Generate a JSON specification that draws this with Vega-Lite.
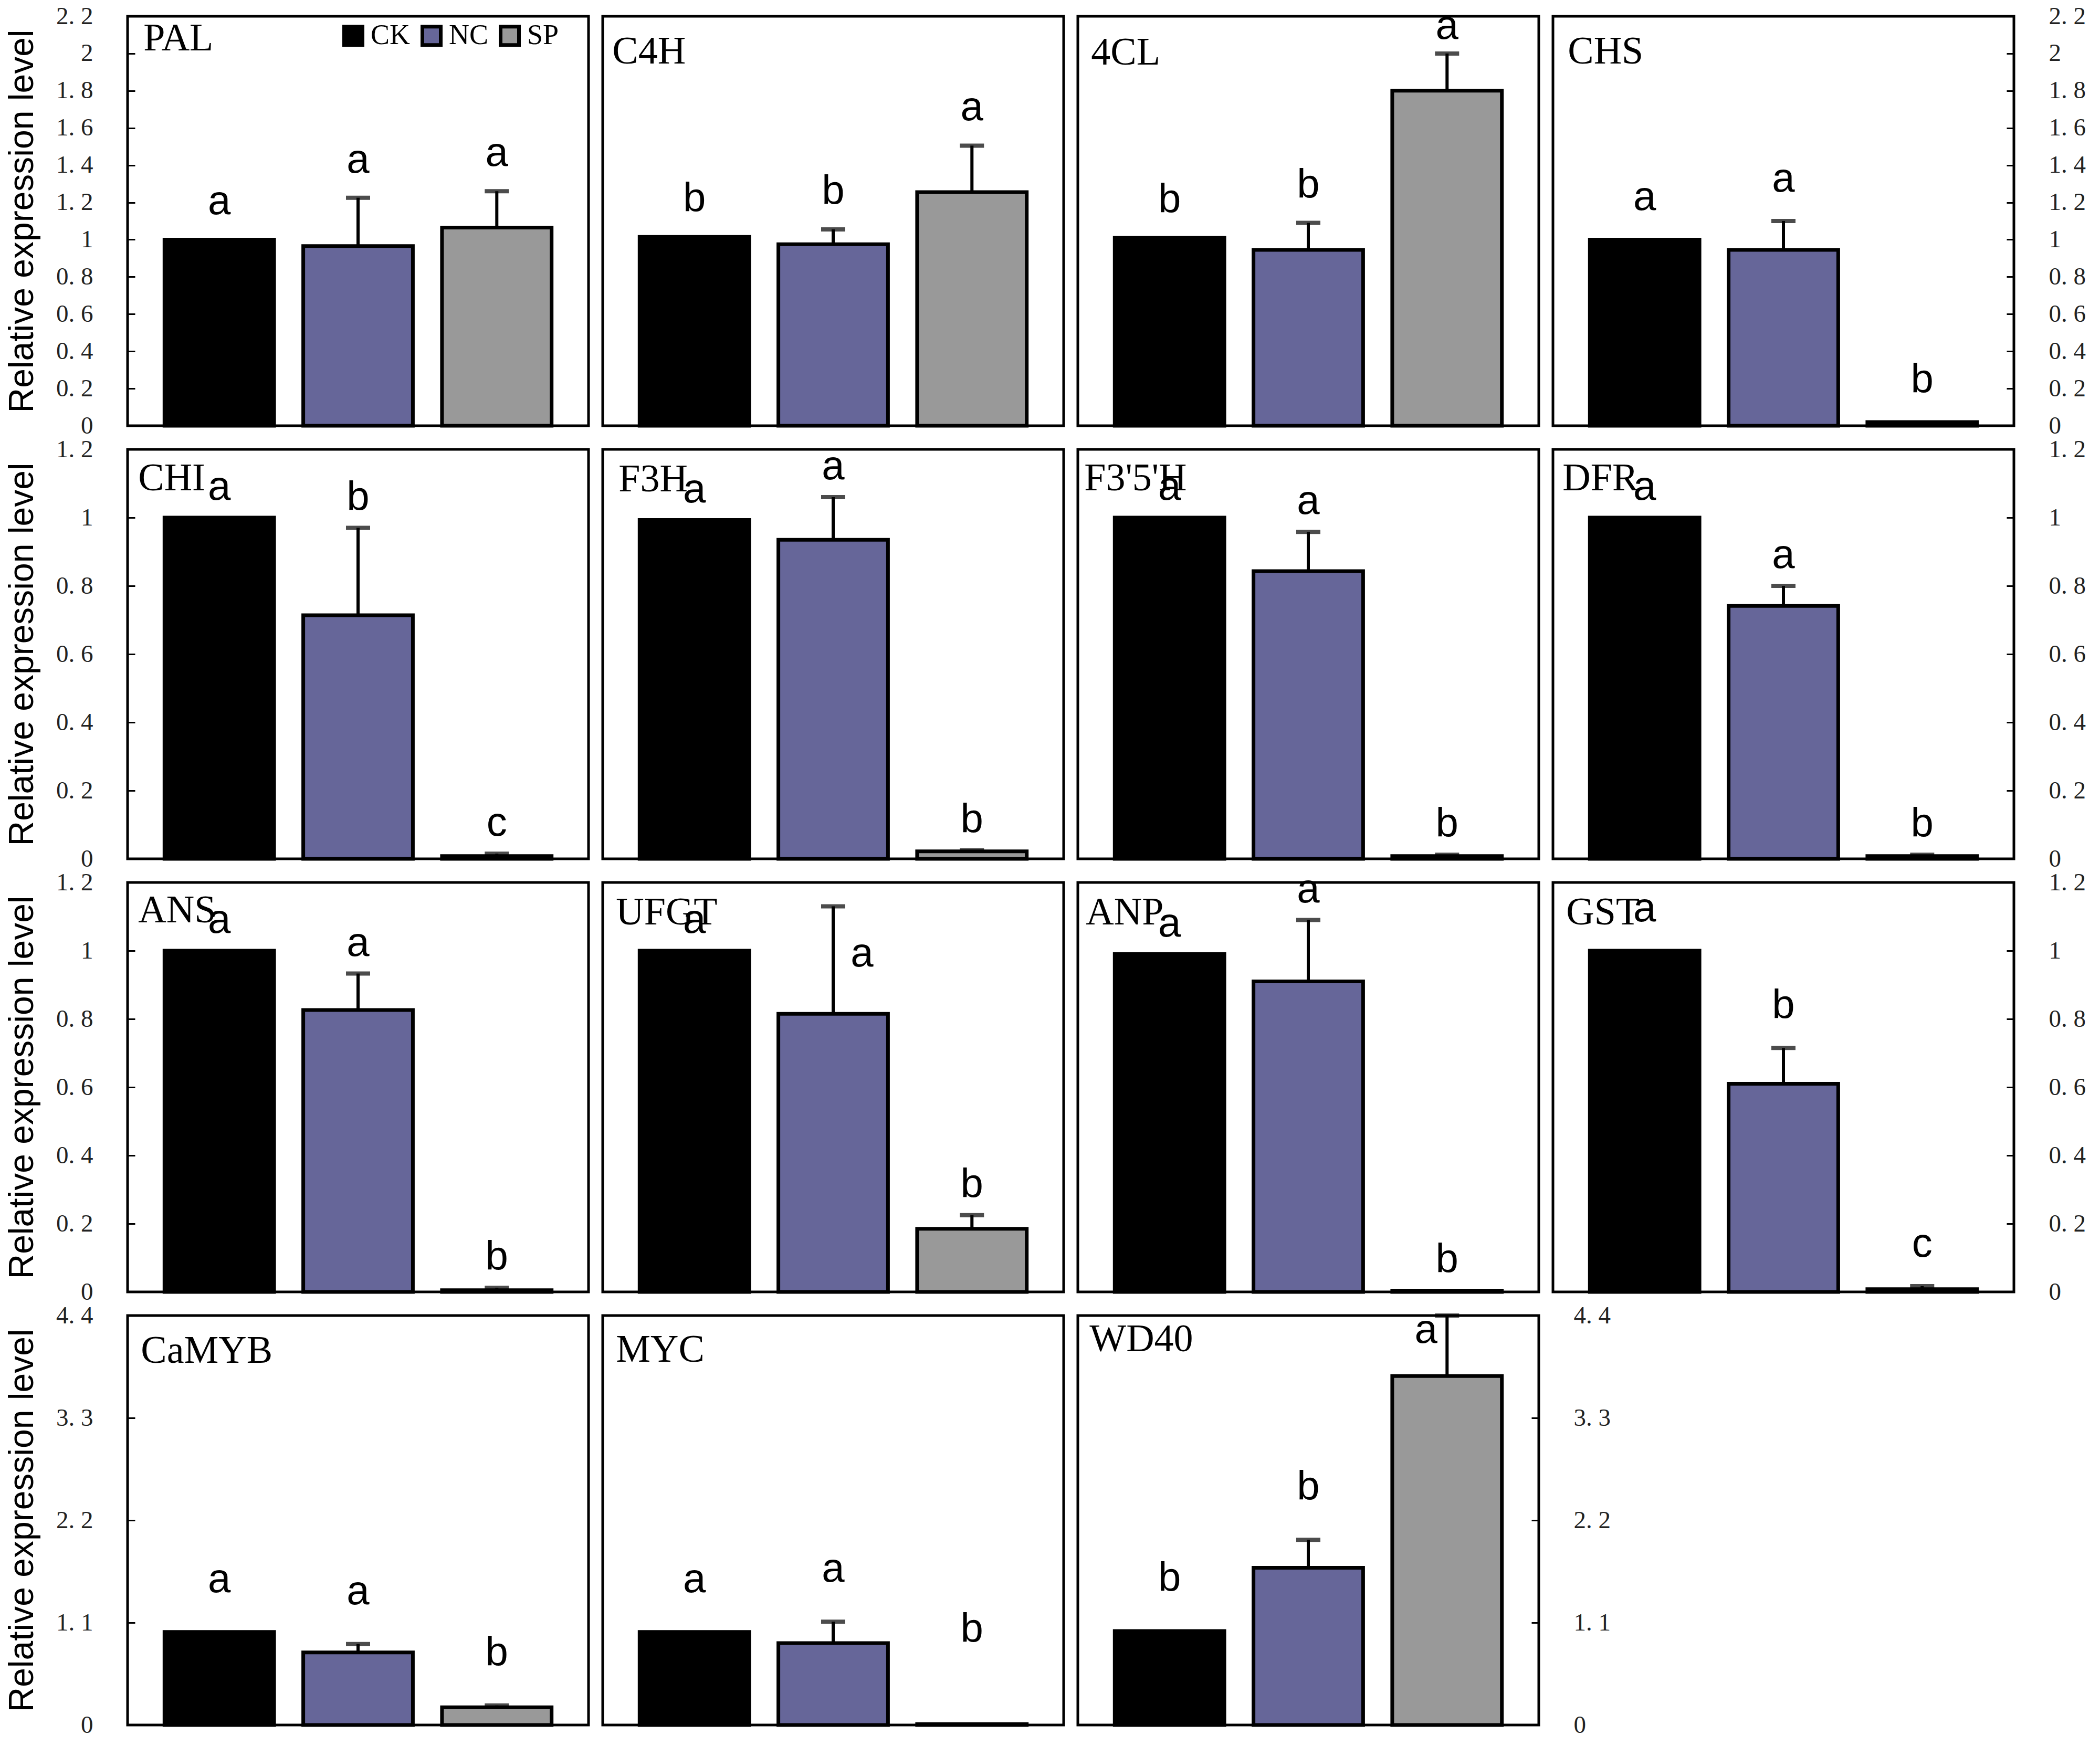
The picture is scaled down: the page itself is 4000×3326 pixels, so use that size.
{
  "$schema": "https://vega.github.io/schema/vega-lite/v6.json",
  "padding": {"left": 7, "top": 4, "right": 5, "bottom": 5},
  "background": "white",
  "data": {
    "values": [
      {"gene": "PAL", "trt": "CK", "mean": 1.0, "upper": 1.0, "letter": "a"},
      {"gene": "PAL", "trt": "NC", "mean": 0.965, "upper": 1.225, "letter": "a"},
      {"gene": "PAL", "trt": "SP", "mean": 1.065, "upper": 1.26, "letter": "a"},
      {"gene": "C4H", "trt": "CK", "mean": 1.015, "upper": 1.015, "letter": "b"},
      {"gene": "C4H", "trt": "NC", "mean": 0.975, "upper": 1.055, "letter": "b"},
      {"gene": "C4H", "trt": "SP", "mean": 1.255, "upper": 1.505, "letter": "a"},
      {"gene": "4CL", "trt": "CK", "mean": 1.01, "upper": 1.01, "letter": "b"},
      {"gene": "4CL", "trt": "NC", "mean": 0.945, "upper": 1.09, "letter": "b"},
      {"gene": "4CL", "trt": "SP", "mean": 1.8, "upper": 2.0, "letter": "a"},
      {"gene": "CHS", "trt": "CK", "mean": 1.0, "upper": 1.0, "letter": "a"},
      {"gene": "CHS", "trt": "NC", "mean": 0.945, "upper": 1.1, "letter": "a"},
      {"gene": "CHS", "trt": "SP", "mean": 0.02, "upper": 0.02, "letter": "b"},
      {"gene": "CHI", "trt": "CK", "mean": 1.0, "upper": 1.0, "letter": "a"},
      {"gene": "CHI", "trt": "NC", "mean": 0.714, "upper": 0.97, "letter": "b"},
      {"gene": "CHI", "trt": "SP", "mean": 0.008, "upper": 0.015, "letter": "c"},
      {"gene": "F3H", "trt": "CK", "mean": 0.993, "upper": 0.993, "letter": "a"},
      {"gene": "F3H", "trt": "NC", "mean": 0.935, "upper": 1.06, "letter": "a"},
      {"gene": "F3H", "trt": "SP", "mean": 0.022, "upper": 0.025, "letter": "b"},
      {"gene": "F3'5'H", "trt": "CK", "mean": 1.0, "upper": 1.0, "letter": "a"},
      {"gene": "F3'5'H", "trt": "NC", "mean": 0.843, "upper": 0.958, "letter": "a"},
      {"gene": "F3'5'H", "trt": "SP", "mean": 0.008, "upper": 0.012, "letter": "b"},
      {"gene": "DFR", "trt": "CK", "mean": 1.0, "upper": 1.0, "letter": "a"},
      {"gene": "DFR", "trt": "NC", "mean": 0.741, "upper": 0.8, "letter": "a"},
      {"gene": "DFR", "trt": "SP", "mean": 0.008, "upper": 0.012, "letter": "b"},
      {"gene": "ANS", "trt": "CK", "mean": 1.0, "upper": 1.0, "letter": "a"},
      {"gene": "ANS", "trt": "NC", "mean": 0.826, "upper": 0.933, "letter": "a"},
      {"gene": "ANS", "trt": "SP", "mean": 0.005, "upper": 0.012, "letter": "b"},
      {"gene": "UFGT", "trt": "CK", "mean": 1.0, "upper": 1.0, "letter": "a"},
      {"gene": "UFGT", "trt": "NC", "mean": 0.815, "upper": 1.13, "letter": "a"},
      {"gene": "UFGT", "trt": "SP", "mean": 0.185, "upper": 0.225, "letter": "b"},
      {"gene": "ANP", "trt": "CK", "mean": 0.99, "upper": 0.99, "letter": "a"},
      {"gene": "ANP", "trt": "NC", "mean": 0.91, "upper": 1.09, "letter": "a"},
      {"gene": "ANP", "trt": "SP", "mean": 0.004, "upper": 0.004, "letter": "b"},
      {"gene": "GST", "trt": "CK", "mean": 1.0, "upper": 1.0, "letter": "a"},
      {"gene": "GST", "trt": "NC", "mean": 0.61, "upper": 0.715, "letter": "b"},
      {"gene": "GST", "trt": "SP", "mean": 0.008, "upper": 0.017, "letter": "c"},
      {"gene": "CaMYB", "trt": "CK", "mean": 1.0, "upper": 1.0, "letter": "a"},
      {"gene": "CaMYB", "trt": "NC", "mean": 0.78, "upper": 0.87, "letter": "a"},
      {"gene": "CaMYB", "trt": "SP", "mean": 0.19, "upper": 0.21, "letter": "b"},
      {"gene": "MYC", "trt": "CK", "mean": 1.0, "upper": 1.0, "letter": "a"},
      {"gene": "MYC", "trt": "NC", "mean": 0.88, "upper": 1.11, "letter": "a"},
      {"gene": "MYC", "trt": "SP", "mean": 0.01, "upper": 0.01, "letter": "b"},
      {"gene": "WD40", "trt": "CK", "mean": 1.01, "upper": 1.01, "letter": "b"},
      {"gene": "WD40", "trt": "NC", "mean": 1.69, "upper": 1.99, "letter": "b"},
      {"gene": "WD40", "trt": "SP", "mean": 3.75, "upper": 4.4, "letter": "a"}
    ]
  },
  "columns": 4,
  "spacing": {"row": 45, "column": 27},
  "bounds": "flush",
  "resolve": {
    "scale": {"x": "independent", "y": "independent", "color": "independent"},
    "legend": {"color": "independent"}
  },
  "concat": [
    {
      "width": 878, "height": 780,
      "transform": [{"filter": {"field": "gene", "equal": "PAL"}}],
      "encoding": {"x": {"field": "trt", "type": "nominal", "scale": {"domain": ["CK", "NC", "SP"], "paddingInner": 0.21, "paddingOuter": 0.266}, "axis": null}},
      "layer": [
        {"mark": "bar", "encoding": {
          "y": {"field": "mean", "type": "quantitative", "scale": {"domain": [0, 2.2], "nice": false}, "axis": {"orient": "left", "title": "Relative expression level", "values": [0, 0.2, 0.4, 0.6, 0.8, 1, 1.2, 1.4, 1.6, 1.8, 2, 2.2]}},
          "color": {"field": "trt", "type": "nominal", "scale": {"domain": ["CK", "NC", "SP"], "range": ["#000000", "#666699", "#999999"]},
            "legend": {"orient": "none", "legendX": 403, "legendY": 10, "direction": "horizontal", "title": null, "symbolType": "square", "symbolSize": 1225, "symbolStrokeColor": "black", "symbolStrokeWidth": 4, "labelFont": "Liberation Serif", "labelFontSize": 54, "labelColor": "black", "labelOffset": 6, "columnPadding": 8, "padding": 0}}
        }},
        {"transform": [{"filter": "datum.upper > datum.mean"}], "mark": "rule", "encoding": {
          "y": {"field": "mean", "type": "quantitative", "scale": {"domain": [0, 2.2], "nice": false}, "axis": {"orient": "left", "title": "Relative expression level", "values": [0, 0.2, 0.4, 0.6, 0.8, 1, 1.2, 1.4, 1.6, 1.8, 2, 2.2]}}, "y2": {"field": "upper"}}},
        {"transform": [{"filter": "datum.upper > datum.mean"}], "mark": "tick", "encoding": {
          "y": {"field": "upper", "type": "quantitative", "scale": {"domain": [0, 2.2], "nice": false}, "axis": {"orient": "left", "title": "Relative expression level", "values": [0, 0.2, 0.4, 0.6, 0.8, 1, 1.2, 1.4, 1.6, 1.8, 2, 2.2]}}}},
        {"mark": {"type": "text", "dy": -32}, "encoding": {
          "y": {"field": "upper", "type": "quantitative", "scale": {"domain": [0, 2.2], "nice": false}, "axis": {"orient": "left", "title": "Relative expression level", "values": [0, 0.2, 0.4, 0.6, 0.8, 1, 1.2, 1.4, 1.6, 1.8, 2, 2.2]}}, "text": {"field": "letter"}}},
        {"transform": [{"filter": {"field": "trt", "equal": "CK"}}], "mark": {"type": "text", "font": "Liberation Serif", "fontSize": 74, "align": "left", "baseline": "alphabetic", "dx": -40, "dy": 65}, "encoding": {
          "x": {"field": "trt", "type": "nominal", "bandPosition": 0, "scale": {"domain": ["CK", "NC", "SP"], "paddingInner": 0.21, "paddingOuter": 0.266}, "axis": null},
          "y": {"datum": 2.2, "type": "quantitative", "scale": {"domain": [0, 2.2], "nice": false}, "axis": {"orient": "left", "title": "Relative expression level", "values": [0, 0.2, 0.4, 0.6, 0.8, 1, 1.2, 1.4, 1.6, 1.8, 2, 2.2]}}, "text": {"field": "gene"}}}
      ]
    },
    {
      "width": 878, "height": 780,
      "transform": [{"filter": {"field": "gene", "equal": "C4H"}}],
      "encoding": {"x": {"field": "trt", "type": "nominal", "scale": {"domain": ["CK", "NC", "SP"], "paddingInner": 0.21, "paddingOuter": 0.266}, "axis": null}},
      "layer": [
        {"mark": "bar", "encoding": {
          "y": {"field": "mean", "type": "quantitative", "scale": {"domain": [0, 2.2], "nice": false}, "axis": null},
          "color": {"field": "trt", "type": "nominal", "scale": {"domain": ["CK", "NC", "SP"], "range": ["#000000", "#666699", "#999999"]}, "legend": null}
        }},
        {"transform": [{"filter": "datum.upper > datum.mean"}], "mark": "rule", "encoding": {
          "y": {"field": "mean", "type": "quantitative", "scale": {"domain": [0, 2.2], "nice": false}, "axis": null}, "y2": {"field": "upper"}}},
        {"transform": [{"filter": "datum.upper > datum.mean"}], "mark": "tick", "encoding": {
          "y": {"field": "upper", "type": "quantitative", "scale": {"domain": [0, 2.2], "nice": false}, "axis": null}}},
        {"mark": {"type": "text", "dy": -32}, "encoding": {
          "y": {"field": "upper", "type": "quantitative", "scale": {"domain": [0, 2.2], "nice": false}, "axis": null}, "text": {"field": "letter"}}},
        {"transform": [{"filter": {"field": "trt", "equal": "CK"}}], "mark": {"type": "text", "font": "Liberation Serif", "fontSize": 74, "align": "left", "baseline": "alphabetic", "dx": -52, "dy": 90}, "encoding": {
          "x": {"field": "trt", "type": "nominal", "bandPosition": 0, "scale": {"domain": ["CK", "NC", "SP"], "paddingInner": 0.21, "paddingOuter": 0.266}, "axis": null},
          "y": {"datum": 2.2, "type": "quantitative", "scale": {"domain": [0, 2.2], "nice": false}, "axis": null}, "text": {"field": "gene"}}}
      ]
    },
    {
      "width": 878, "height": 780,
      "transform": [{"filter": {"field": "gene", "equal": "4CL"}}],
      "encoding": {"x": {"field": "trt", "type": "nominal", "scale": {"domain": ["CK", "NC", "SP"], "paddingInner": 0.21, "paddingOuter": 0.266}, "axis": null}},
      "layer": [
        {"mark": "bar", "encoding": {
          "y": {"field": "mean", "type": "quantitative", "scale": {"domain": [0, 2.2], "nice": false}, "axis": null},
          "color": {"field": "trt", "type": "nominal", "scale": {"domain": ["CK", "NC", "SP"], "range": ["#000000", "#666699", "#999999"]}, "legend": null}
        }},
        {"transform": [{"filter": "datum.upper > datum.mean"}], "mark": "rule", "encoding": {
          "y": {"field": "mean", "type": "quantitative", "scale": {"domain": [0, 2.2], "nice": false}, "axis": null}, "y2": {"field": "upper"}}},
        {"transform": [{"filter": "datum.upper > datum.mean"}], "mark": "tick", "encoding": {
          "y": {"field": "upper", "type": "quantitative", "scale": {"domain": [0, 2.2], "nice": false}, "axis": null}}},
        {"transform": [{"filter": {"field": "trt", "oneOf": ["CK", "NC"]}}], "mark": {"type": "text", "dy": -32}, "encoding": {
          "y": {"field": "upper", "type": "quantitative", "scale": {"domain": [0, 2.2], "nice": false}, "axis": null}, "text": {"field": "letter"}}},
        {"transform": [{"filter": {"field": "trt", "equal": "SP"}}], "mark": {"type": "text", "dy": -12}, "encoding": {
          "y": {"field": "upper", "type": "quantitative", "scale": {"domain": [0, 2.2], "nice": false}, "axis": null}, "text": {"field": "letter"}}},
        {"transform": [{"filter": {"field": "trt", "equal": "CK"}}], "mark": {"type": "text", "font": "Liberation Serif", "fontSize": 74, "align": "left", "baseline": "alphabetic", "dx": -45, "dy": 92}, "encoding": {
          "x": {"field": "trt", "type": "nominal", "bandPosition": 0, "scale": {"domain": ["CK", "NC", "SP"], "paddingInner": 0.21, "paddingOuter": 0.266}, "axis": null},
          "y": {"datum": 2.2, "type": "quantitative", "scale": {"domain": [0, 2.2], "nice": false}, "axis": null}, "text": {"field": "gene"}}}
      ]
    },
    {
      "width": 878, "height": 780,
      "transform": [{"filter": {"field": "gene", "equal": "CHS"}}],
      "encoding": {"x": {"field": "trt", "type": "nominal", "scale": {"domain": ["CK", "NC", "SP"], "paddingInner": 0.21, "paddingOuter": 0.266}, "axis": null}},
      "layer": [
        {"mark": "bar", "encoding": {
          "y": {"field": "mean", "type": "quantitative", "scale": {"domain": [0, 2.2], "nice": false}, "axis": {"orient": "right", "title": null, "values": [0, 0.2, 0.4, 0.6, 0.8, 1, 1.2, 1.4, 1.6, 1.8, 2, 2.2]}},
          "color": {"field": "trt", "type": "nominal", "scale": {"domain": ["CK", "NC", "SP"], "range": ["#000000", "#666699", "#999999"]}, "legend": null}
        }},
        {"transform": [{"filter": "datum.upper > datum.mean"}], "mark": "rule", "encoding": {
          "y": {"field": "mean", "type": "quantitative", "scale": {"domain": [0, 2.2], "nice": false}, "axis": {"orient": "right", "title": null, "values": [0, 0.2, 0.4, 0.6, 0.8, 1, 1.2, 1.4, 1.6, 1.8, 2, 2.2]}}, "y2": {"field": "upper"}}},
        {"transform": [{"filter": "datum.upper > datum.mean"}], "mark": "tick", "encoding": {
          "y": {"field": "upper", "type": "quantitative", "scale": {"domain": [0, 2.2], "nice": false}, "axis": {"orient": "right", "title": null, "values": [0, 0.2, 0.4, 0.6, 0.8, 1, 1.2, 1.4, 1.6, 1.8, 2, 2.2]}}}},
        {"mark": {"type": "text", "dy": -40}, "encoding": {
          "y": {"field": "upper", "type": "quantitative", "scale": {"domain": [0, 2.2], "nice": false}, "axis": {"orient": "right", "title": null, "values": [0, 0.2, 0.4, 0.6, 0.8, 1, 1.2, 1.4, 1.6, 1.8, 2, 2.2]}}, "text": {"field": "letter"}}},
        {"transform": [{"filter": {"field": "trt", "equal": "CK"}}], "mark": {"type": "text", "font": "Liberation Serif", "fontSize": 74, "align": "left", "baseline": "alphabetic", "dx": -42, "dy": 90}, "encoding": {
          "x": {"field": "trt", "type": "nominal", "bandPosition": 0, "scale": {"domain": ["CK", "NC", "SP"], "paddingInner": 0.21, "paddingOuter": 0.266}, "axis": null},
          "y": {"datum": 2.2, "type": "quantitative", "scale": {"domain": [0, 2.2], "nice": false}, "axis": {"orient": "right", "title": null, "values": [0, 0.2, 0.4, 0.6, 0.8, 1, 1.2, 1.4, 1.6, 1.8, 2, 2.2]}}, "text": {"field": "gene"}}}
      ]
    },
    {
      "width": 878, "height": 780,
      "transform": [{"filter": {"field": "gene", "equal": "CHI"}}],
      "encoding": {"x": {"field": "trt", "type": "nominal", "scale": {"domain": ["CK", "NC", "SP"], "paddingInner": 0.21, "paddingOuter": 0.266}, "axis": null}},
      "layer": [
        {"mark": "bar", "encoding": {
          "y": {"field": "mean", "type": "quantitative", "scale": {"domain": [0, 1.2], "nice": false}, "axis": {"orient": "left", "title": "Relative expression level", "values": [0, 0.2, 0.4, 0.6, 0.8, 1, 1.2]}},
          "color": {"field": "trt", "type": "nominal", "scale": {"domain": ["CK", "NC", "SP"], "range": ["#000000", "#666699", "#999999"]}, "legend": null}
        }},
        {"transform": [{"filter": "datum.upper > datum.mean"}], "mark": "rule", "encoding": {
          "y": {"field": "mean", "type": "quantitative", "scale": {"domain": [0, 1.2], "nice": false}, "axis": {"orient": "left", "title": "Relative expression level", "values": [0, 0.2, 0.4, 0.6, 0.8, 1, 1.2]}}, "y2": {"field": "upper"}}},
        {"transform": [{"filter": "datum.upper > datum.mean"}], "mark": "tick", "encoding": {
          "y": {"field": "upper", "type": "quantitative", "scale": {"domain": [0, 1.2], "nice": false}, "axis": {"orient": "left", "title": "Relative expression level", "values": [0, 0.2, 0.4, 0.6, 0.8, 1, 1.2]}}}},
        {"mark": {"type": "text", "dy": -18}, "encoding": {
          "y": {"field": "upper", "type": "quantitative", "scale": {"domain": [0, 1.2], "nice": false}, "axis": {"orient": "left", "title": "Relative expression level", "values": [0, 0.2, 0.4, 0.6, 0.8, 1, 1.2]}}, "text": {"field": "letter"}}},
        {"transform": [{"filter": {"field": "trt", "equal": "CK"}}], "mark": {"type": "text", "font": "Liberation Serif", "fontSize": 74, "align": "left", "baseline": "alphabetic", "dx": -50, "dy": 78}, "encoding": {
          "x": {"field": "trt", "type": "nominal", "bandPosition": 0, "scale": {"domain": ["CK", "NC", "SP"], "paddingInner": 0.21, "paddingOuter": 0.266}, "axis": null},
          "y": {"datum": 1.2, "type": "quantitative", "scale": {"domain": [0, 1.2], "nice": false}, "axis": {"orient": "left", "title": "Relative expression level", "values": [0, 0.2, 0.4, 0.6, 0.8, 1, 1.2]}}, "text": {"field": "gene"}}}
      ]
    },
    {
      "width": 878, "height": 780,
      "transform": [{"filter": {"field": "gene", "equal": "F3H"}}],
      "encoding": {"x": {"field": "trt", "type": "nominal", "scale": {"domain": ["CK", "NC", "SP"], "paddingInner": 0.21, "paddingOuter": 0.266}, "axis": null}},
      "layer": [
        {"mark": "bar", "encoding": {
          "y": {"field": "mean", "type": "quantitative", "scale": {"domain": [0, 1.2], "nice": false}, "axis": null},
          "color": {"field": "trt", "type": "nominal", "scale": {"domain": ["CK", "NC", "SP"], "range": ["#000000", "#666699", "#999999"]}, "legend": null}
        }},
        {"transform": [{"filter": "datum.upper > datum.mean"}], "mark": "rule", "encoding": {
          "y": {"field": "mean", "type": "quantitative", "scale": {"domain": [0, 1.2], "nice": false}, "axis": null}, "y2": {"field": "upper"}}},
        {"transform": [{"filter": "datum.upper > datum.mean"}], "mark": "tick", "encoding": {
          "y": {"field": "upper", "type": "quantitative", "scale": {"domain": [0, 1.2], "nice": false}, "axis": null}}},
        {"mark": {"type": "text", "dy": -18}, "encoding": {
          "y": {"field": "upper", "type": "quantitative", "scale": {"domain": [0, 1.2], "nice": false}, "axis": null}, "text": {"field": "letter"}}},
        {"transform": [{"filter": {"field": "trt", "equal": "CK"}}], "mark": {"type": "text", "font": "Liberation Serif", "fontSize": 74, "align": "left", "baseline": "alphabetic", "dx": -40, "dy": 80}, "encoding": {
          "x": {"field": "trt", "type": "nominal", "bandPosition": 0, "scale": {"domain": ["CK", "NC", "SP"], "paddingInner": 0.21, "paddingOuter": 0.266}, "axis": null},
          "y": {"datum": 1.2, "type": "quantitative", "scale": {"domain": [0, 1.2], "nice": false}, "axis": null}, "text": {"field": "gene"}}}
      ]
    },
    {
      "width": 878, "height": 780,
      "transform": [{"filter": {"field": "gene", "equal": "F3'5'H"}}],
      "encoding": {"x": {"field": "trt", "type": "nominal", "scale": {"domain": ["CK", "NC", "SP"], "paddingInner": 0.21, "paddingOuter": 0.266}, "axis": null}},
      "layer": [
        {"mark": "bar", "encoding": {
          "y": {"field": "mean", "type": "quantitative", "scale": {"domain": [0, 1.2], "nice": false}, "axis": null},
          "color": {"field": "trt", "type": "nominal", "scale": {"domain": ["CK", "NC", "SP"], "range": ["#000000", "#666699", "#999999"]}, "legend": null}
        }},
        {"transform": [{"filter": "datum.upper > datum.mean"}], "mark": "rule", "encoding": {
          "y": {"field": "mean", "type": "quantitative", "scale": {"domain": [0, 1.2], "nice": false}, "axis": null}, "y2": {"field": "upper"}}},
        {"transform": [{"filter": "datum.upper > datum.mean"}], "mark": "tick", "encoding": {
          "y": {"field": "upper", "type": "quantitative", "scale": {"domain": [0, 1.2], "nice": false}, "axis": null}}},
        {"mark": {"type": "text", "dy": -18}, "encoding": {
          "y": {"field": "upper", "type": "quantitative", "scale": {"domain": [0, 1.2], "nice": false}, "axis": null}, "text": {"field": "letter"}}},
        {"transform": [{"filter": {"field": "trt", "equal": "CK"}}], "mark": {"type": "text", "font": "Liberation Serif", "fontSize": 74, "align": "left", "baseline": "alphabetic", "dx": -58, "dy": 78}, "encoding": {
          "x": {"field": "trt", "type": "nominal", "bandPosition": 0, "scale": {"domain": ["CK", "NC", "SP"], "paddingInner": 0.21, "paddingOuter": 0.266}, "axis": null},
          "y": {"datum": 1.2, "type": "quantitative", "scale": {"domain": [0, 1.2], "nice": false}, "axis": null}, "text": {"field": "gene"}}}
      ]
    },
    {
      "width": 878, "height": 780,
      "transform": [{"filter": {"field": "gene", "equal": "DFR"}}],
      "encoding": {"x": {"field": "trt", "type": "nominal", "scale": {"domain": ["CK", "NC", "SP"], "paddingInner": 0.21, "paddingOuter": 0.266}, "axis": null}},
      "layer": [
        {"mark": "bar", "encoding": {
          "y": {"field": "mean", "type": "quantitative", "scale": {"domain": [0, 1.2], "nice": false}, "axis": {"orient": "right", "title": null, "values": [0, 0.2, 0.4, 0.6, 0.8, 1, 1.2]}},
          "color": {"field": "trt", "type": "nominal", "scale": {"domain": ["CK", "NC", "SP"], "range": ["#000000", "#666699", "#999999"]}, "legend": null}
        }},
        {"transform": [{"filter": "datum.upper > datum.mean"}], "mark": "rule", "encoding": {
          "y": {"field": "mean", "type": "quantitative", "scale": {"domain": [0, 1.2], "nice": false}, "axis": {"orient": "right", "title": null, "values": [0, 0.2, 0.4, 0.6, 0.8, 1, 1.2]}}, "y2": {"field": "upper"}}},
        {"transform": [{"filter": "datum.upper > datum.mean"}], "mark": "tick", "encoding": {
          "y": {"field": "upper", "type": "quantitative", "scale": {"domain": [0, 1.2], "nice": false}, "axis": {"orient": "right", "title": null, "values": [0, 0.2, 0.4, 0.6, 0.8, 1, 1.2]}}}},
        {"mark": {"type": "text", "dy": -18}, "encoding": {
          "y": {"field": "upper", "type": "quantitative", "scale": {"domain": [0, 1.2], "nice": false}, "axis": {"orient": "right", "title": null, "values": [0, 0.2, 0.4, 0.6, 0.8, 1, 1.2]}}, "text": {"field": "letter"}}},
        {"transform": [{"filter": {"field": "trt", "equal": "CK"}}], "mark": {"type": "text", "font": "Liberation Serif", "fontSize": 74, "align": "left", "baseline": "alphabetic", "dx": -52, "dy": 78}, "encoding": {
          "x": {"field": "trt", "type": "nominal", "bandPosition": 0, "scale": {"domain": ["CK", "NC", "SP"], "paddingInner": 0.21, "paddingOuter": 0.266}, "axis": null},
          "y": {"datum": 1.2, "type": "quantitative", "scale": {"domain": [0, 1.2], "nice": false}, "axis": {"orient": "right", "title": null, "values": [0, 0.2, 0.4, 0.6, 0.8, 1, 1.2]}}, "text": {"field": "gene"}}}
      ]
    },
    {
      "width": 878, "height": 780,
      "transform": [{"filter": {"field": "gene", "equal": "ANS"}}],
      "encoding": {"x": {"field": "trt", "type": "nominal", "scale": {"domain": ["CK", "NC", "SP"], "paddingInner": 0.21, "paddingOuter": 0.266}, "axis": null}},
      "layer": [
        {"mark": "bar", "encoding": {
          "y": {"field": "mean", "type": "quantitative", "scale": {"domain": [0, 1.2], "nice": false}, "axis": {"orient": "left", "title": "Relative expression level", "values": [0, 0.2, 0.4, 0.6, 0.8, 1, 1.2]}},
          "color": {"field": "trt", "type": "nominal", "scale": {"domain": ["CK", "NC", "SP"], "range": ["#000000", "#666699", "#999999"]}, "legend": null}
        }},
        {"transform": [{"filter": "datum.upper > datum.mean"}], "mark": "rule", "encoding": {
          "y": {"field": "mean", "type": "quantitative", "scale": {"domain": [0, 1.2], "nice": false}, "axis": {"orient": "left", "title": "Relative expression level", "values": [0, 0.2, 0.4, 0.6, 0.8, 1, 1.2]}}, "y2": {"field": "upper"}}},
        {"transform": [{"filter": "datum.upper > datum.mean"}], "mark": "tick", "encoding": {
          "y": {"field": "upper", "type": "quantitative", "scale": {"domain": [0, 1.2], "nice": false}, "axis": {"orient": "left", "title": "Relative expression level", "values": [0, 0.2, 0.4, 0.6, 0.8, 1, 1.2]}}}},
        {"mark": {"type": "text", "dy": -18}, "encoding": {
          "y": {"field": "upper", "type": "quantitative", "scale": {"domain": [0, 1.2], "nice": false}, "axis": {"orient": "left", "title": "Relative expression level", "values": [0, 0.2, 0.4, 0.6, 0.8, 1, 1.2]}}, "text": {"field": "letter"}}},
        {"transform": [{"filter": {"field": "trt", "equal": "CK"}}], "mark": {"type": "text", "font": "Liberation Serif", "fontSize": 74, "align": "left", "baseline": "alphabetic", "dx": -50, "dy": 76}, "encoding": {
          "x": {"field": "trt", "type": "nominal", "bandPosition": 0, "scale": {"domain": ["CK", "NC", "SP"], "paddingInner": 0.21, "paddingOuter": 0.266}, "axis": null},
          "y": {"datum": 1.2, "type": "quantitative", "scale": {"domain": [0, 1.2], "nice": false}, "axis": {"orient": "left", "title": "Relative expression level", "values": [0, 0.2, 0.4, 0.6, 0.8, 1, 1.2]}}, "text": {"field": "gene"}}}
      ]
    },
    {
      "width": 878, "height": 780,
      "transform": [{"filter": {"field": "gene", "equal": "UFGT"}}],
      "encoding": {"x": {"field": "trt", "type": "nominal", "scale": {"domain": ["CK", "NC", "SP"], "paddingInner": 0.21, "paddingOuter": 0.266}, "axis": null}},
      "layer": [
        {"mark": "bar", "encoding": {
          "y": {"field": "mean", "type": "quantitative", "scale": {"domain": [0, 1.2], "nice": false}, "axis": null},
          "color": {"field": "trt", "type": "nominal", "scale": {"domain": ["CK", "NC", "SP"], "range": ["#000000", "#666699", "#999999"]}, "legend": null}
        }},
        {"transform": [{"filter": "datum.upper > datum.mean"}], "mark": "rule", "encoding": {
          "y": {"field": "mean", "type": "quantitative", "scale": {"domain": [0, 1.2], "nice": false}, "axis": null}, "y2": {"field": "upper"}}},
        {"transform": [{"filter": "datum.upper > datum.mean"}], "mark": "tick", "encoding": {
          "y": {"field": "upper", "type": "quantitative", "scale": {"domain": [0, 1.2], "nice": false}, "axis": null}}},
        {"transform": [{"filter": {"field": "trt", "equal": "NC"}}], "mark": {"type": "text", "dy": 130, "dx": 55}, "encoding": {
          "y": {"field": "upper", "type": "quantitative", "scale": {"domain": [0, 1.2], "nice": false}, "axis": null}, "text": {"field": "letter"}}},
        {"transform": [{"filter": {"field": "trt", "oneOf": ["CK", "SP"]}}], "mark": {"type": "text", "dy": -18}, "encoding": {
          "y": {"field": "upper", "type": "quantitative", "scale": {"domain": [0, 1.2], "nice": false}, "axis": null}, "text": {"field": "letter"}}},
        {"transform": [{"filter": {"field": "trt", "equal": "CK"}}], "mark": {"type": "text", "font": "Liberation Serif", "fontSize": 74, "align": "left", "baseline": "alphabetic", "dx": -45, "dy": 80}, "encoding": {
          "x": {"field": "trt", "type": "nominal", "bandPosition": 0, "scale": {"domain": ["CK", "NC", "SP"], "paddingInner": 0.21, "paddingOuter": 0.266}, "axis": null},
          "y": {"datum": 1.2, "type": "quantitative", "scale": {"domain": [0, 1.2], "nice": false}, "axis": null}, "text": {"field": "gene"}}}
      ]
    },
    {
      "width": 878, "height": 780,
      "transform": [{"filter": {"field": "gene", "equal": "ANP"}}],
      "encoding": {"x": {"field": "trt", "type": "nominal", "scale": {"domain": ["CK", "NC", "SP"], "paddingInner": 0.21, "paddingOuter": 0.266}, "axis": null}},
      "layer": [
        {"mark": "bar", "encoding": {
          "y": {"field": "mean", "type": "quantitative", "scale": {"domain": [0, 1.2], "nice": false}, "axis": null},
          "color": {"field": "trt", "type": "nominal", "scale": {"domain": ["CK", "NC", "SP"], "range": ["#000000", "#666699", "#999999"]}, "legend": null}
        }},
        {"transform": [{"filter": "datum.upper > datum.mean"}], "mark": "rule", "encoding": {
          "y": {"field": "mean", "type": "quantitative", "scale": {"domain": [0, 1.2], "nice": false}, "axis": null}, "y2": {"field": "upper"}}},
        {"transform": [{"filter": "datum.upper > datum.mean"}], "mark": "tick", "encoding": {
          "y": {"field": "upper", "type": "quantitative", "scale": {"domain": [0, 1.2], "nice": false}, "axis": null}}},
        {"mark": {"type": "text", "dy": -18}, "encoding": {
          "y": {"field": "upper", "type": "quantitative", "scale": {"domain": [0, 1.2], "nice": false}, "axis": null}, "text": {"field": "letter"}}},
        {"transform": [{"filter": {"field": "trt", "equal": "CK"}}], "mark": {"type": "text", "font": "Liberation Serif", "fontSize": 74, "align": "left", "baseline": "alphabetic", "dx": -55, "dy": 80}, "encoding": {
          "x": {"field": "trt", "type": "nominal", "bandPosition": 0, "scale": {"domain": ["CK", "NC", "SP"], "paddingInner": 0.21, "paddingOuter": 0.266}, "axis": null},
          "y": {"datum": 1.2, "type": "quantitative", "scale": {"domain": [0, 1.2], "nice": false}, "axis": null}, "text": {"field": "gene"}}}
      ]
    },
    {
      "width": 878, "height": 780,
      "transform": [{"filter": {"field": "gene", "equal": "GST"}}],
      "encoding": {"x": {"field": "trt", "type": "nominal", "scale": {"domain": ["CK", "NC", "SP"], "paddingInner": 0.21, "paddingOuter": 0.266}, "axis": null}},
      "layer": [
        {"mark": "bar", "encoding": {
          "y": {"field": "mean", "type": "quantitative", "scale": {"domain": [0, 1.2], "nice": false}, "axis": {"orient": "right", "title": null, "values": [0, 0.2, 0.4, 0.6, 0.8, 1, 1.2]}},
          "color": {"field": "trt", "type": "nominal", "scale": {"domain": ["CK", "NC", "SP"], "range": ["#000000", "#666699", "#999999"]}, "legend": null}
        }},
        {"transform": [{"filter": "datum.upper > datum.mean"}], "mark": "rule", "encoding": {
          "y": {"field": "mean", "type": "quantitative", "scale": {"domain": [0, 1.2], "nice": false}, "axis": {"orient": "right", "title": null, "values": [0, 0.2, 0.4, 0.6, 0.8, 1, 1.2]}}, "y2": {"field": "upper"}}},
        {"transform": [{"filter": "datum.upper > datum.mean"}], "mark": "tick", "encoding": {
          "y": {"field": "upper", "type": "quantitative", "scale": {"domain": [0, 1.2], "nice": false}, "axis": {"orient": "right", "title": null, "values": [0, 0.2, 0.4, 0.6, 0.8, 1, 1.2]}}}},
        {"mark": {"type": "text", "dy": -40}, "encoding": {
          "y": {"field": "upper", "type": "quantitative", "scale": {"domain": [0, 1.2], "nice": false}, "axis": {"orient": "right", "title": null, "values": [0, 0.2, 0.4, 0.6, 0.8, 1, 1.2]}}, "text": {"field": "letter"}}},
        {"transform": [{"filter": {"field": "trt", "equal": "CK"}}], "mark": {"type": "text", "font": "Liberation Serif", "fontSize": 74, "align": "left", "baseline": "alphabetic", "dx": -45, "dy": 80}, "encoding": {
          "x": {"field": "trt", "type": "nominal", "bandPosition": 0, "scale": {"domain": ["CK", "NC", "SP"], "paddingInner": 0.21, "paddingOuter": 0.266}, "axis": null},
          "y": {"datum": 1.2, "type": "quantitative", "scale": {"domain": [0, 1.2], "nice": false}, "axis": {"orient": "right", "title": null, "values": [0, 0.2, 0.4, 0.6, 0.8, 1, 1.2]}}, "text": {"field": "gene"}}}
      ]
    },
    {
      "width": 878, "height": 780,
      "transform": [{"filter": {"field": "gene", "equal": "CaMYB"}}],
      "encoding": {"x": {"field": "trt", "type": "nominal", "scale": {"domain": ["CK", "NC", "SP"], "paddingInner": 0.21, "paddingOuter": 0.266}, "axis": null}},
      "layer": [
        {"mark": "bar", "encoding": {
          "y": {"field": "mean", "type": "quantitative", "scale": {"domain": [0, 4.4], "nice": false}, "axis": {"orient": "left", "title": "Relative expression level", "values": [0, 1.1, 2.2, 3.3, 4.4]}},
          "color": {"field": "trt", "type": "nominal", "scale": {"domain": ["CK", "NC", "SP"], "range": ["#000000", "#666699", "#999999"]}, "legend": null}
        }},
        {"transform": [{"filter": "datum.upper > datum.mean"}], "mark": "rule", "encoding": {
          "y": {"field": "mean", "type": "quantitative", "scale": {"domain": [0, 4.4], "nice": false}, "axis": {"orient": "left", "title": "Relative expression level", "values": [0, 1.1, 2.2, 3.3, 4.4]}}, "y2": {"field": "upper"}}},
        {"transform": [{"filter": "datum.upper > datum.mean"}], "mark": "tick", "encoding": {
          "y": {"field": "upper", "type": "quantitative", "scale": {"domain": [0, 4.4], "nice": false}, "axis": {"orient": "left", "title": "Relative expression level", "values": [0, 1.1, 2.2, 3.3, 4.4]}}}},
        {"mark": {"type": "text", "dy": -60}, "encoding": {
          "y": {"field": "upper", "type": "quantitative", "scale": {"domain": [0, 4.4], "nice": false}, "axis": {"orient": "left", "title": "Relative expression level", "values": [0, 1.1, 2.2, 3.3, 4.4]}}, "text": {"field": "letter"}}},
        {"transform": [{"filter": {"field": "trt", "equal": "CK"}}], "mark": {"type": "text", "font": "Liberation Serif", "fontSize": 74, "align": "left", "baseline": "alphabetic", "dx": -45, "dy": 90}, "encoding": {
          "x": {"field": "trt", "type": "nominal", "bandPosition": 0, "scale": {"domain": ["CK", "NC", "SP"], "paddingInner": 0.21, "paddingOuter": 0.266}, "axis": null},
          "y": {"datum": 4.4, "type": "quantitative", "scale": {"domain": [0, 4.4], "nice": false}, "axis": {"orient": "left", "title": "Relative expression level", "values": [0, 1.1, 2.2, 3.3, 4.4]}}, "text": {"field": "gene"}}}
      ]
    },
    {
      "width": 878, "height": 780,
      "transform": [{"filter": {"field": "gene", "equal": "MYC"}}],
      "encoding": {"x": {"field": "trt", "type": "nominal", "scale": {"domain": ["CK", "NC", "SP"], "paddingInner": 0.21, "paddingOuter": 0.266}, "axis": null}},
      "layer": [
        {"mark": "bar", "encoding": {
          "y": {"field": "mean", "type": "quantitative", "scale": {"domain": [0, 4.4], "nice": false}, "axis": null},
          "color": {"field": "trt", "type": "nominal", "scale": {"domain": ["CK", "NC", "SP"], "range": ["#000000", "#666699", "#999999"]}, "legend": null}
        }},
        {"transform": [{"filter": "datum.upper > datum.mean"}], "mark": "rule", "encoding": {
          "y": {"field": "mean", "type": "quantitative", "scale": {"domain": [0, 4.4], "nice": false}, "axis": null}, "y2": {"field": "upper"}}},
        {"transform": [{"filter": "datum.upper > datum.mean"}], "mark": "tick", "encoding": {
          "y": {"field": "upper", "type": "quantitative", "scale": {"domain": [0, 4.4], "nice": false}, "axis": null}}},
        {"transform": [{"filter": {"field": "trt", "oneOf": ["CK", "NC"]}}], "mark": {"type": "text", "dy": -60}, "encoding": {
          "y": {"field": "upper", "type": "quantitative", "scale": {"domain": [0, 4.4], "nice": false}, "axis": null}, "text": {"field": "letter"}}},
        {"transform": [{"filter": {"field": "trt", "equal": "SP"}}], "mark": {"type": "text", "dy": -140}, "encoding": {
          "y": {"field": "upper", "type": "quantitative", "scale": {"domain": [0, 4.4], "nice": false}, "axis": null}, "text": {"field": "letter"}}},
        {"transform": [{"filter": {"field": "trt", "equal": "CK"}}], "mark": {"type": "text", "font": "Liberation Serif", "fontSize": 74, "align": "left", "baseline": "alphabetic", "dx": -45, "dy": 88}, "encoding": {
          "x": {"field": "trt", "type": "nominal", "bandPosition": 0, "scale": {"domain": ["CK", "NC", "SP"], "paddingInner": 0.21, "paddingOuter": 0.266}, "axis": null},
          "y": {"datum": 4.4, "type": "quantitative", "scale": {"domain": [0, 4.4], "nice": false}, "axis": null}, "text": {"field": "gene"}}}
      ]
    },
    {
      "width": 878, "height": 780,
      "transform": [{"filter": {"field": "gene", "equal": "WD40"}}],
      "encoding": {"x": {"field": "trt", "type": "nominal", "scale": {"domain": ["CK", "NC", "SP"], "paddingInner": 0.21, "paddingOuter": 0.266}, "axis": null}},
      "layer": [
        {"mark": "bar", "encoding": {
          "y": {"field": "mean", "type": "quantitative", "scale": {"domain": [0, 4.4], "nice": false}, "axis": {"orient": "right", "title": null, "values": [0, 1.1, 2.2, 3.3, 4.4]}},
          "color": {"field": "trt", "type": "nominal", "scale": {"domain": ["CK", "NC", "SP"], "range": ["#000000", "#666699", "#999999"]}, "legend": null}
        }},
        {"transform": [{"filter": "datum.upper > datum.mean"}], "mark": "rule", "encoding": {
          "y": {"field": "mean", "type": "quantitative", "scale": {"domain": [0, 4.4], "nice": false}, "axis": {"orient": "right", "title": null, "values": [0, 1.1, 2.2, 3.3, 4.4]}}, "y2": {"field": "upper"}}},
        {"transform": [{"filter": "datum.upper > datum.mean"}], "mark": "tick", "encoding": {
          "y": {"field": "upper", "type": "quantitative", "scale": {"domain": [0, 4.4], "nice": false}, "axis": {"orient": "right", "title": null, "values": [0, 1.1, 2.2, 3.3, 4.4]}}}},
        {"transform": [{"filter": {"field": "trt", "oneOf": ["CK", "NC"]}}], "mark": {"type": "text", "dy": -60}, "encoding": {
          "y": {"field": "upper", "type": "quantitative", "scale": {"domain": [0, 4.4], "nice": false}, "axis": {"orient": "right", "title": null, "values": [0, 1.1, 2.2, 3.3, 4.4]}}, "text": {"field": "letter"}}},
        {"transform": [{"filter": {"field": "trt", "equal": "SP"}}], "mark": {"type": "text", "baseline": "top", "dx": -40, "dy": -10}, "encoding": {
          "y": {"field": "upper", "type": "quantitative", "scale": {"domain": [0, 4.4], "nice": false}, "axis": {"orient": "right", "title": null, "values": [0, 1.1, 2.2, 3.3, 4.4]}}, "text": {"field": "letter"}}},
        {"transform": [{"filter": {"field": "trt", "equal": "CK"}}], "mark": {"type": "text", "font": "Liberation Serif", "fontSize": 74, "align": "left", "baseline": "alphabetic", "dx": -48, "dy": 68}, "encoding": {
          "x": {"field": "trt", "type": "nominal", "bandPosition": 0, "scale": {"domain": ["CK", "NC", "SP"], "paddingInner": 0.21, "paddingOuter": 0.266}, "axis": null},
          "y": {"datum": 4.4, "type": "quantitative", "scale": {"domain": [0, 4.4], "nice": false}, "axis": {"orient": "right", "title": null, "values": [0, 1.1, 2.2, 3.3, 4.4]}}, "text": {"field": "gene"}}}
      ]
    }
  ],
  "config": {
    "view": {"stroke": "black", "strokeWidth": 5},
    "bar": {"stroke": "black", "strokeWidth": 7},
    "rule": {"color": "black", "strokeWidth": 6},
    "tick": {"color": "black", "thickness": 8, "size": 46},
    "text": {"font": "Liberation Sans", "fontSize": 78, "baseline": "bottom", "color": "black"},
    "axis": {"grid": false, "domain": false},
    "axisY": {
      "tickColor": "black", "tickWidth": 3, "tickSize": -14,
      "labelFont": "Liberation Serif", "labelFontSize": 47, "labelColor": "#222222", "labelPadding": 80,
      "labelExpr": "replace(format(datum.value, '~g'), '.', '. ')",
      "titleFont": "Liberation Sans", "titleFontSize": 66, "titleFontWeight": "normal", "titleColor": "black", "titlePadding": 30
    }
  }
}
